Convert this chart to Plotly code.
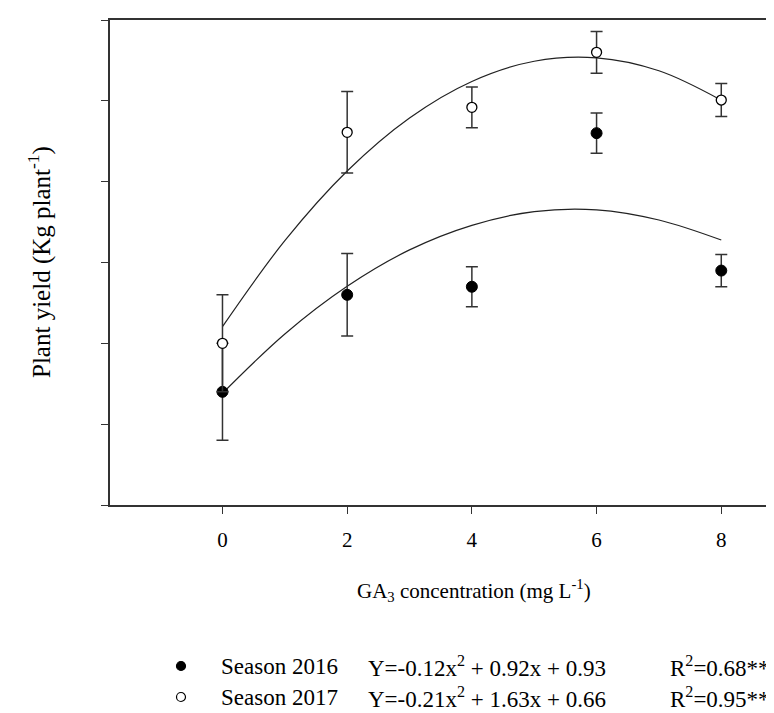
import plotly.graph_objects as go

# GA3 concentration (mg L-1)
conc = [0, 2, 4, 6, 8]

# Plant yield points
yield_2016 = [0.70, 1.30, 1.35, 2.30, 1.45]
err_2016 = [0.30, 0.255, 0.124, 0.124, 0.10]
yield_2017 = [1.00, 2.305, 2.46, 2.80, 2.505]
err_2017 = [0.30, 0.252, 0.126, 0.129, 0.102]

# Fitted curves
curve_x = [0, 1, 2, 3, 4, 5, 6, 7, 8]
curve_2016 = [0.691, 1.058, 1.353, 1.578, 1.730, 1.815, 1.826, 1.763, 1.639]
curve_2017 = [1.103, 1.635, 2.066, 2.394, 2.620, 2.745, 2.766, 2.686, 2.504]

x_ticks = [0, 2, 4, 6, 8]
y_ticks = [0, 0.5, 1.0, 1.5, 2.0, 2.5, 3.0]

legend_rows = [
    ("Season 2016", "Y=-0.12x<sup>2</sup> + 0.92x + 0.93", "R<sup>2</sup>=0.68**", True),
    ("Season 2017", "Y=-0.21x<sup>2</sup> + 1.63x + 0.66", "R<sup>2</sup>=0.95**", False),
]

FONT = "Liberation Serif, Times New Roman, serif"
W, H = 774, 713
L, R, T, B = 102, 0, 12, 216
PW, PH = W - L - R, H - T - B

def px_to_paper_x(px):
    return (px - L) / PW

def px_to_paper_y(py):
    return (H - B - py) / PH

fig = go.Figure()

fig.add_trace(go.Scatter(x=curve_x, y=curve_2016, mode="lines",
                         line=dict(color="#222", width=1.2, shape="spline"),
                         showlegend=False, hoverinfo="skip"))
fig.add_trace(go.Scatter(x=curve_x, y=curve_2017, mode="lines",
                         line=dict(color="#222", width=1.2, shape="spline"),
                         showlegend=False, hoverinfo="skip"))

fig.add_trace(go.Scatter(x=conc, y=yield_2016, mode="markers",
                         marker=dict(color="black", size=11, line=dict(color="black", width=1)),
                         error_y=dict(type="data", array=err_2016, color="#333", thickness=1.5, width=6),
                         name="Season 2016", showlegend=False))
fig.add_trace(go.Scatter(x=conc, y=yield_2017, mode="markers",
                         marker=dict(color="white", size=10, line=dict(color="black", width=1.3)),
                         error_y=dict(type="data", array=err_2017, color="#333", thickness=1.5, width=6),
                         name="Season 2017", showlegend=False))

annotations = []
shapes = []
# axis titles
annotations.append(dict(text="Plant yield (Kg plant<sup>-1</sup>)", x=px_to_paper_x(31), y=px_to_paper_y(254),
                        xref="paper", yref="paper", showarrow=False, textangle=-90,
                        font=dict(family=FONT, size=25, color="black"), xanchor="center", yanchor="middle"))
annotations.append(dict(text="GA<sub>3</sub> concentration (mg L<sup>-1</sup>)", x=px_to_paper_x(466), y=px_to_paper_y(582),
                        xref="paper", yref="paper", showarrow=False,
                        font=dict(family=FONT, size=21, color="black"), xanchor="center", yanchor="middle"))

row_y = [658, 689]
for (season, eq, r2, filled), py in zip(legend_rows, row_y):
    yy = px_to_paper_y(py)
    shapes.append(dict(type="circle", xref="paper", yref="paper", xsizemode="pixel", ysizemode="pixel",
                       xanchor=px_to_paper_x(173), yanchor=yy, x0=-4.5, x1=4.5, y0=-4.5, y1=4.5,
                       fillcolor="black" if filled else "white", line=dict(color="black", width=1.2)))
    for txt, px in ((season, 211), (eq, 358), (r2, 660)):
        annotations.append(dict(text=txt, x=px_to_paper_x(px), y=yy, xref="paper", yref="paper",
                                showarrow=False, xanchor="left", yanchor="middle",
                                font=dict(family=FONT, size=23, color="black")))

fig.update_layout(
    width=W, height=H,
    margin=dict(l=L, r=R, t=T, b=B),
    paper_bgcolor="white", plot_bgcolor="white",
    annotations=annotations, shapes=shapes,
    xaxis=dict(range=[-1.804, 8.974], tickvals=x_ticks, ticktext=[str(v) for v in x_ticks],
               ticks="outside", ticklen=7, tickcolor="#333", tickwidth=1.2,
               showline=True, linecolor="#333", linewidth=1.5, mirror=True,
               showgrid=False, zeroline=False, ticklabelstandoff=8,
               tickfont=dict(family=FONT, size=21, color="black")),
    yaxis=dict(range=[0, 3.0], tickvals=y_ticks, showticklabels=False,
               ticks="outside", ticklen=7, tickcolor="#333", tickwidth=1.2,
               showline=True, linecolor="#333", linewidth=1.5, mirror=False,
               showgrid=False, zeroline=False),
)

fig.write_html("out.html")
